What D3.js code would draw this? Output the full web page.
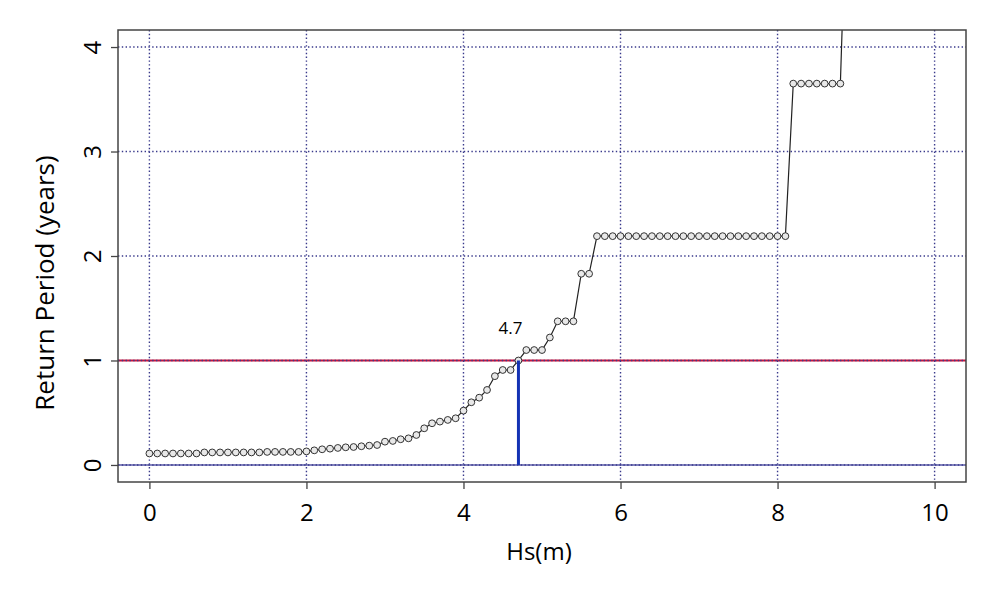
<!DOCTYPE html>
<html>
<head>
<meta charset="utf-8">
<script src="https://cdn.jsdelivr.net/npm/d3@7"></script>
<style>
  html, body { margin: 0; padding: 0; background: #fff; }
  svg { display: block; }
  text { font-family: "Open Sans", "Noto Sans", sans-serif; fill: #000; }
</style>
</head>
<body>
<svg id="chart" width="1001" height="589"></svg>
<script>
// ---- data ----
const hs = [
  0.0, 0.1, 0.2, 0.3, 0.4, 0.5, 0.6, 0.7, 0.8, 0.9,
  1.0, 1.1, 1.2, 1.3, 1.4, 1.5, 1.6, 1.7, 1.8, 1.9,
  2.0, 2.1, 2.2, 2.3, 2.4, 2.5, 2.6, 2.7, 2.8, 2.9,
  3.0, 3.1, 3.2, 3.3, 3.4, 3.5, 3.6, 3.7, 3.8, 3.9,
  4.0, 4.1, 4.2, 4.3, 4.4, 4.5, 4.6, 4.7, 4.8, 4.9,
  5.0, 5.1, 5.2, 5.3, 5.4, 5.5, 5.6, 5.7, 5.8, 5.9,
  6.0, 6.1, 6.2, 6.3, 6.4, 6.5, 6.6, 6.7, 6.8, 6.9,
  7.0, 7.1, 7.2, 7.3, 7.4, 7.5, 7.6, 7.7, 7.8, 7.9,
  8.0, 8.1, 8.2, 8.3, 8.4, 8.5, 8.6, 8.7, 8.8, 8.9
];
const returnPeriod = [
  0.11, 0.11, 0.11, 0.11, 0.11, 0.11, 0.11, 0.12, 0.12, 0.12,
  0.12, 0.12, 0.12, 0.12, 0.12, 0.125, 0.125, 0.125, 0.125, 0.125,
  0.13, 0.14, 0.15, 0.156, 0.163, 0.169, 0.172, 0.179, 0.185, 0.191,
  0.223, 0.23, 0.246, 0.255, 0.287, 0.351, 0.399, 0.415, 0.431, 0.447,
  0.52, 0.60, 0.644, 0.718, 0.85, 0.909, 0.909, 1.0, 1.1, 1.1,
  1.1, 1.22, 1.375, 1.375, 1.375, 1.83, 1.83, 2.19, 2.19, 2.19,
  2.19, 2.19, 2.19, 2.19, 2.19, 2.19, 2.19, 2.19, 2.19, 2.19,
  2.19, 2.19, 2.19, 2.19, 2.19, 2.19, 2.19, 2.19, 2.19, 2.19,
  2.19, 2.19, 3.65, 3.65, 3.65, 3.65, 3.65, 3.65, 3.65, 6.0
];
const xTicks = [0, 2, 4, 6, 8, 10];
const yTicks = [0, 1, 2, 3, 4];
const threshold = 1;       // return period 1 year
const thresholdHs = 4.7;   // Hs at 1-year return period
const thresholdLabel = "4.7";
const xTitle = "Hs(m)";
const yTitle = "Return Period (years)";

// ---- layout ----
const svg = d3.select("#chart");
const L = 118, R = 966, T = 30, B = 482;
const x = d3.scaleLinear().domain([-0.4, 10.4]).range([L, R]);
const y = d3.scaleLinear().domain([-0.163, 4.163]).range([B, T]);

svg.append("defs").append("clipPath").attr("id", "plotclip")
  .append("rect").attr("x", L).attr("y", T).attr("width", R - L).attr("height", B - T);

const gridColor = "#3a3a8c";
const grid = svg.append("g").attr("clip-path", "url(#plotclip)");

// horizontal reference lines
grid.append("line")
  .attr("x1", L).attr("x2", R).attr("y1", y(0)).attr("y2", y(0))
  .attr("stroke", "#5a5aa8").attr("stroke-width", 1.6);
grid.append("line")
  .attr("x1", L).attr("x2", R).attr("y1", y(threshold)).attr("y2", y(threshold))
  .attr("stroke", "#c8143c").attr("stroke-width", 2);

grid.selectAll(".vg").data(xTicks).join("line")
  .attr("x1", d => x(d)).attr("x2", d => x(d)).attr("y1", T).attr("y2", B)
  .attr("stroke", gridColor).attr("stroke-width", 1.4).attr("stroke-dasharray", "1.4,2.4");
grid.selectAll(".hg").data(yTicks).join("line")
  .attr("x1", L).attr("x2", R).attr("y1", d => y(d)).attr("y2", d => y(d))
  .attr("stroke", gridColor).attr("stroke-width", 1.4).attr("stroke-dasharray", "1.4,2.4");

// series
const pts = hs.map((h, i) => ({ h, v: returnPeriod[i] }));
const plot = svg.append("g").attr("clip-path", "url(#plotclip)");
plot.append("path")
  .datum(pts)
  .attr("d", d3.line().x(d => x(d.h)).y(d => y(d.v)))
  .attr("fill", "none").attr("stroke", "#222").attr("stroke-width", 1.2);
plot.selectAll("circle").data(pts.filter(d => d.v <= 4.163)).join("circle")
  .attr("cx", d => x(d.h)).attr("cy", d => y(d.v)).attr("r", 3.4)
  .attr("fill", "#e8e8e8").attr("stroke", "#333").attr("stroke-width", 1);

// vertical threshold line
plot.append("line")
  .attr("x1", x(thresholdHs)).attr("x2", x(thresholdHs))
  .attr("y1", y(0)).attr("y2", y(threshold))
  .attr("stroke", "#1432b4").attr("stroke-width", 3);

svg.append("text")
  .attr("x", x(thresholdHs) - 8).attr("y", y(threshold) - 26)
  .attr("text-anchor", "middle").attr("font-size", 17)
  .text(thresholdLabel);

// box
svg.append("rect").attr("x", L).attr("y", T).attr("width", R - L).attr("height", B - T)
  .attr("fill", "none").attr("stroke", "#444").attr("stroke-width", 1.5);

// axes
const xAxis = svg.append("g").attr("transform", `translate(0,${B})`)
  .call(d3.axisBottom(x).tickValues(xTicks).tickSize(7).tickPadding(15).tickFormat(d3.format("d")));
xAxis.select(".domain").remove();
xAxis.selectAll("line").attr("stroke", "#444").attr("stroke-width", 1.3);
xAxis.selectAll("text").attr("font-size", 24).attr("font-family", "'Open Sans', sans-serif");

const yAxis = svg.append("g").attr("transform", `translate(${L},0)`)
  .call(d3.axisLeft(y).tickValues(yTicks).tickSize(7).tickFormat(d3.format("d")));
yAxis.select(".domain").remove();
yAxis.selectAll("line").attr("stroke", "#444").attr("stroke-width", 1.3);
yAxis.selectAll("text")
  .attr("font-size", 24).attr("font-family", "'Open Sans', sans-serif")
  .attr("x", null).attr("dy", null)
  .attr("text-anchor", "middle")
  .attr("transform", "translate(-17,0) rotate(-90)")
  .attr("dy", "0em");

// titles
svg.append("text")
  .attr("x", (L + R) / 2 - 3).attr("y", 560)
  .attr("text-anchor", "middle").attr("font-size", 24)
  .text(xTitle);
svg.append("text")
  .attr("transform", `translate(54,${(T + B) / 2 + 27}) rotate(-90)`)
  .attr("text-anchor", "middle").attr("font-size", 26)
  .text(yTitle);
</script>
</body>
</html>
